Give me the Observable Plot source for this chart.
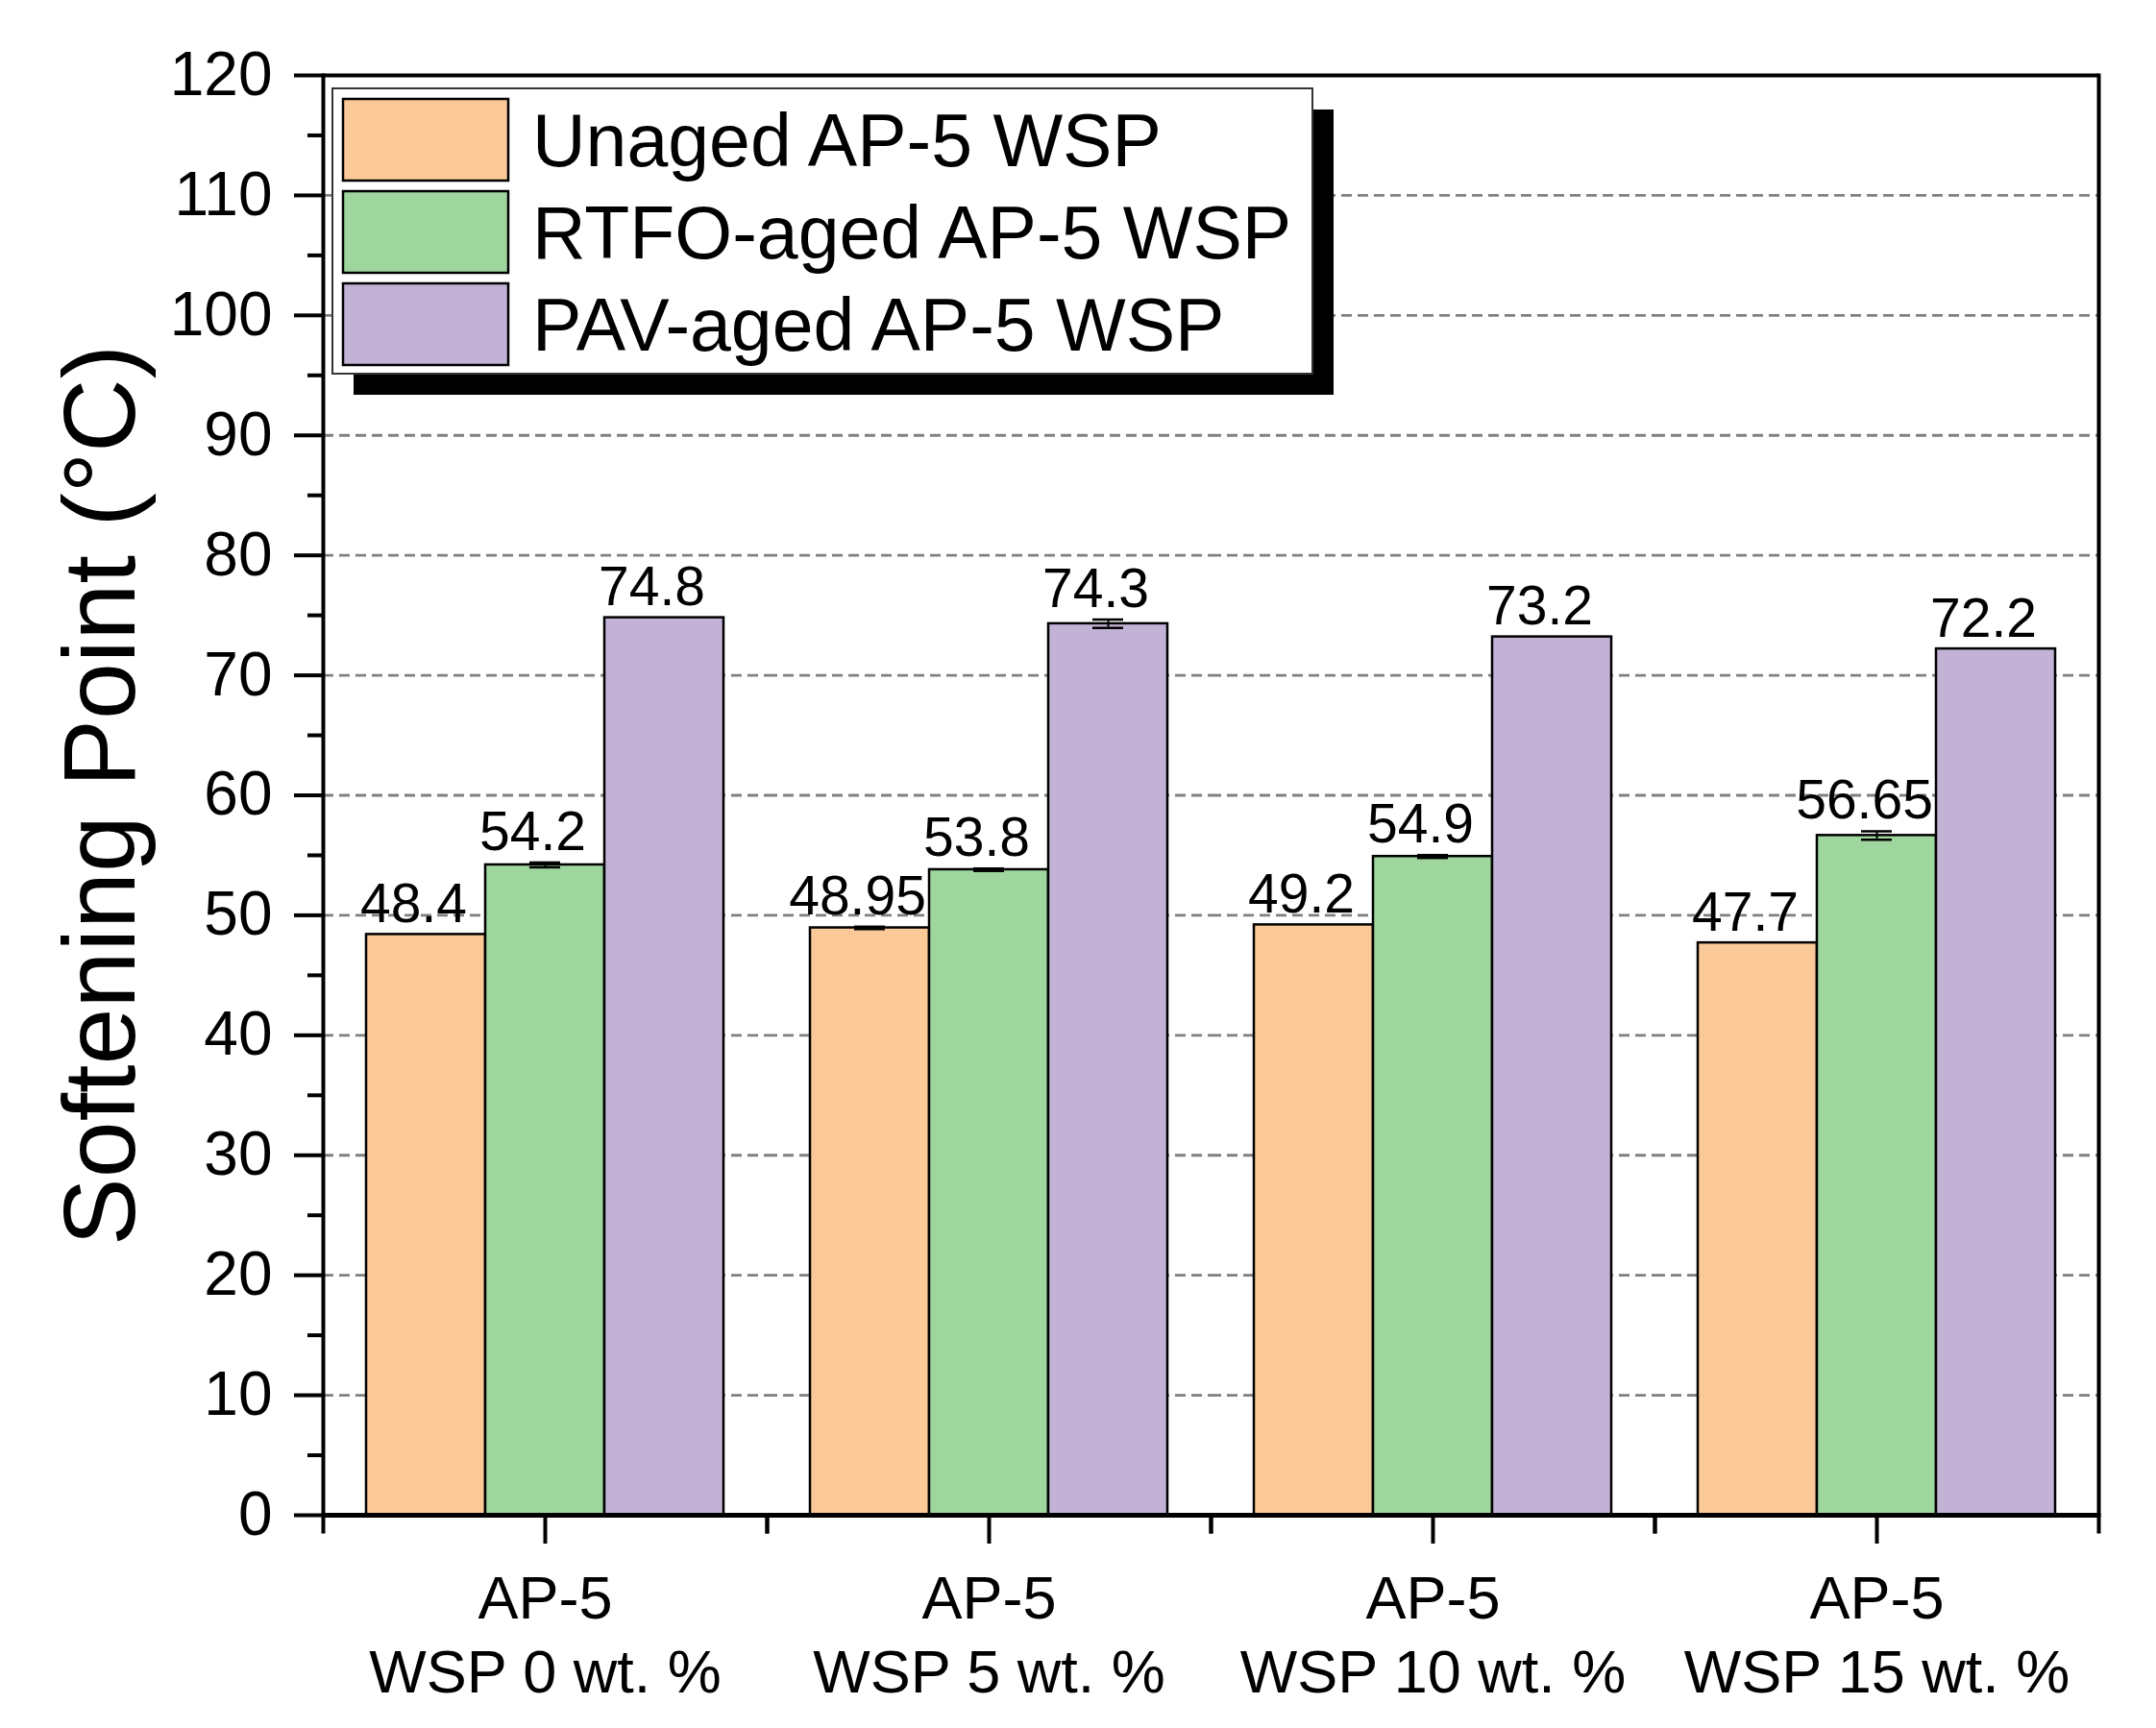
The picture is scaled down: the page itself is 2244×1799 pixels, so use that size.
<!DOCTYPE html>
<html><head><meta charset="utf-8">
<script src="https://cdn.jsdelivr.net/npm/d3@7"></script>
<script src="https://cdn.jsdelivr.net/npm/@observablehq/plot@0.6"></script>
<style>
html,body{margin:0;padding:0;background:#fff;}
#chart{position:relative;width:2244px;height:1799px;}
#chart svg.legend{position:absolute;left:0;top:0;pointer-events:none;}
</style></head><body><div id="chart"></div>
<script>
// ---- data ----
const groups = ["AP-5\nWSP 0 wt. %", "AP-5\nWSP 5 wt. %", "AP-5\nWSP 10 wt. %", "AP-5\nWSP 15 wt. %"];
const series = ["Unaged AP-5 WSP", "RTFO-aged AP-5 WSP", "PAV-aged AP-5 WSP"];
const unaged = [48.4, 48.95, 49.2, 47.7];
const rtfo = [54.2, 53.8, 54.9, 56.65];
const pav = [74.8, 74.3, 73.2, 72.2];
const unagedErr = [0, 0.1, 0, 0];
const rtfoErr = [0.2, 0.1, 0.12, 0.35];
const pavErr = [0, 0.35, 0, 0];
const colors = ["#FBC898", "#9ED69E", "#C1B2D6"];
const yTicks = d3.range(0, 121, 10);
const yMinorTicks = d3.range(5, 120, 10);
const gridTicks = d3.range(10, 111, 10);
const yLabel = "Softening Point (°C)";

const values = [unaged, rtfo, pav], errs = [unagedErr, rtfoErr, pavErr];
const rows = [];
groups.forEach((g, gi) => series.forEach((s, si) =>
  rows.push({group: g, series: s, value: values[si][gi], err: errs[si][gi]})));
const errRows = rows.filter(d => d.err > 0);

const W = 2244, H = 1799, mL = 335, mR = 59, mT = 78, mB = 222;
const frameH = H - mT - mB;
const facetW = (W - mL - mR) / groups.length;
const font = "'Liberation Sans', Arial, sans-serif";

function baseMarks() {
  return [
    Plot.gridY({ticks: gridTicks, stroke: "#808080", strokeOpacity: 1, strokeWidth: 2.8, strokeDasharray: "11,6"}),
    Plot.barY(rows, {fx: "group", x: "series", y: "value", fill: "series", stroke: "black", strokeWidth: 2.5, inset: 0}),
    Plot.ruleX(errRows, {fx: "group", x: "series", y1: d => d.value - d.err, y2: d => d.value + d.err, stroke: "black", strokeWidth: 2}),
    Plot.tickY(errRows, {fx: "group", x: "series", y: d => d.value + d.err, stroke: "black", strokeWidth: 2.5, inset: 46}),
    Plot.tickY(errRows, {fx: "group", x: "series", y: d => d.value - d.err, stroke: "black", strokeWidth: 2.5, inset: 46}),
    Plot.text(rows, {fx: "group", x: "series", y: d => d.value + d.err, text: d => String(d.value),
      lineAnchor: "bottom", dy: -13, dx: -13, fontSize: 57, fill: "black"}),
    Plot.ruleY([0], {stroke: "black", strokeWidth: 5}),
    Plot.ruleY([120], {stroke: "black", strokeWidth: 4}),
    Plot.axisY({ticks: yTicks, tickSize: 30, tickPadding: 23, strokeWidth: 4, fontSize: 64, label: null}),
    Plot.axisY({ticks: yMinorTicks, tickSize: 16, strokeWidth: 4, tickFormat: () => "", label: null}),
    Plot.axisY({ticks: [], label: yLabel, labelAnchor: "center", labelOffset: 272, labelArrow: "none", fontSize: 106}),
    Plot.axisFx({anchor: "bottom", tickSize: 30, tickPadding: 23, strokeWidth: 4, fontSize: 63, lineHeight: 1.22, label: null}),
    // short ticks at the group boundaries
    Plot.frame({anchor: "left", insetTop: frameH, insetBottom: -17, stroke: "black", strokeWidth: 4}),
    Plot.frame({anchor: "right", insetTop: frameH, insetBottom: -17, stroke: "black", strokeWidth: 4})
  ];
}
const options = {
  width: W, height: H, marginLeft: mL, marginRight: mR, marginTop: mT, marginBottom: mB,
  style: {fontFamily: font, color: "black", background: "white", overflow: "visible"},
  fx: {domain: groups, paddingInner: 0, paddingOuter: 0, label: null},
  x: {domain: series, paddingInner: 0, paddingOuter: 0.36, axis: null},
  y: {domain: [0, 120]},
  color: {domain: series, range: colors}
};

let plot;
try {
  // outer box drawn once over the whole plot area
  plot = Plot.plot({...options, marks: [...baseMarks(),
    Plot.frame({facet: "super", anchor: "left", stroke: "black", strokeWidth: 4}),
    Plot.frame({facet: "super", anchor: "right", stroke: "black", strokeWidth: 4})]});
} catch (e) {
  // fallback: border strips confined to the first / last facet
  plot = Plot.plot({...options, marks: [...baseMarks(),
    Plot.rect([groups[0]], {fx: d => d, fill: "black", insetLeft: -2, insetRight: facetW - 2}),
    Plot.rect([groups[groups.length - 1]], {fx: d => d, fill: "black", insetLeft: facetW - 2, insetRight: -2})]});
}
document.getElementById("chart").appendChild(plot);

// ---- legend (inside plot area, top-left), built from the plot's color scale ----
const color = plot.scale("color");
const lg = {x: 346, y: 92, w: 1020, h: 297, shadow: 22, sx: 357, sy: 103, sw: 172, sh: 85, pitch: 96, tx: 554, fs: 77};
const svgL = d3.select("#chart").append("svg").attr("class", "legend").attr("width", W).attr("height", H);
svgL.append("rect").attr("x", lg.x + lg.shadow).attr("y", lg.y + lg.shadow).attr("width", lg.w).attr("height", lg.h).attr("fill", "black");
svgL.append("rect").attr("x", lg.x).attr("y", lg.y).attr("width", lg.w).attr("height", lg.h).attr("fill", "white").attr("stroke", "#333").attr("stroke-width", 2);
color.domain.forEach((s, i) => {
  const y0 = lg.sy + i * lg.pitch;
  svgL.append("rect").attr("x", lg.sx).attr("y", y0).attr("width", lg.sw).attr("height", lg.sh)
    .attr("fill", color.range[i]).attr("stroke", "black").attr("stroke-width", 2.5);
  svgL.append("text").attr("x", lg.tx).attr("y", y0 + lg.sh / 2 + lg.fs * 0.358)
    .attr("font-family", font).attr("font-size", lg.fs).attr("fill", "black").text(s);
});
</script></body></html>
